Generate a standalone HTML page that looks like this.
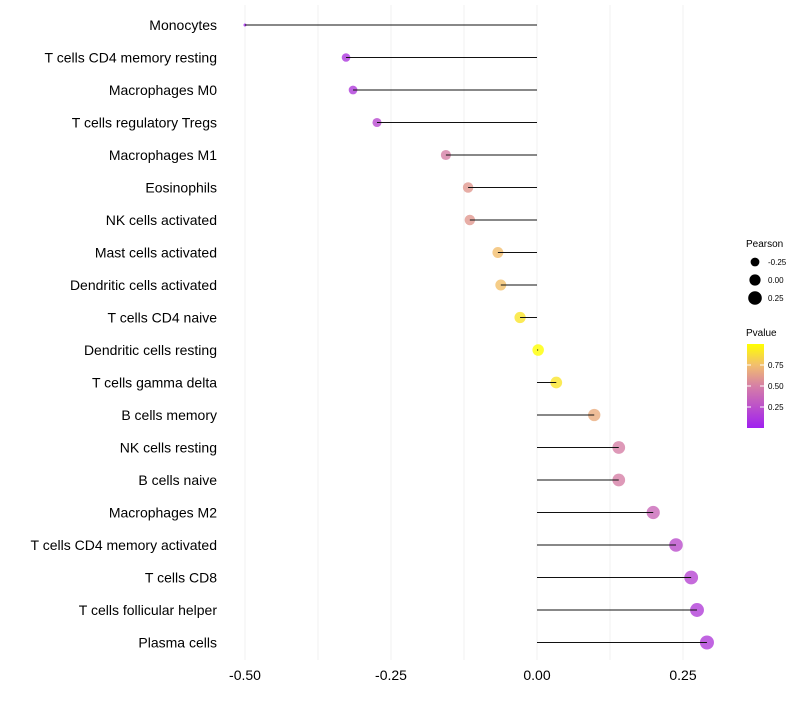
<!DOCTYPE html>
<html><head><meta charset="utf-8"><style>
body{margin:0;background:#fff;width:800px;height:700px;overflow:hidden;font-family:"Liberation Sans",sans-serif}
</style></head><body>
<svg id="chart" width="800" height="700" xmlns="http://www.w3.org/2000/svg">
<defs><linearGradient id="pg" x1="0" y1="1" x2="0" y2="0">
<stop offset="0" stop-color="#A020F0"/><stop offset="0.5" stop-color="#D67FA6"/><stop offset="0.75" stop-color="#F2BE6E"/><stop offset="1" stop-color="#FFFF00"/></linearGradient></defs>
<g id="grid"></g>
<g id="dots"></g>
<g id="marks"></g>
<g id="labels"></g>
<g id="xt"></g>
<g font-size="10">
<text x="746" y="247">Pearson</text>
<g id="sizeLeg"></g>
</g>
<g font-size="10">
<text x="746" y="336">Pvalue</text>
<rect x="747" y="344" width="17" height="84" fill="url(#pg)"/>
<g id="colLeg"></g>
</g>
</svg>
<script>
const categories=["Monocytes","T cells CD4 memory resting","Macrophages M0","T cells regulatory  Tregs ","Macrophages M1","Eosinophils","NK cells activated","Mast cells activated","Dendritic cells activated","T cells CD4 naive","Dendritic cells resting","T cells gamma delta","B cells memory","NK cells resting","B cells naive","Macrophages M2","T cells CD4 memory activated","T cells CD8","T cells follicular helper","Plasma cells"];
const pearson=[-0.50,-0.327,-0.315,-0.274,-0.156,-0.118,-0.115,-0.067,-0.062,-0.029,0.002,0.033,0.098,0.140,0.140,0.199,0.238,0.264,0.274,0.291];
const pvalue=[0.02,0.12,0.14,0.22,0.5,0.6,0.6,0.75,0.76,0.9,1.0,0.9,0.68,0.5,0.5,0.38,0.24,0.2,0.16,0.15];
const xTicks=[-0.5,-0.25,0,0.25];
const xTickLabels=["-0.50","-0.25","0.00","0.25"];
const sizeLegVals=[-0.25,0,0.25];
const colLegVals=[0.25,0.5,0.75];
const NS="http://www.w3.org/2000/svg";
const X=v=>537+v*584;
const Y=i=>25+i*32.5;
const R=v=>v<-0.45?1.5:Math.max(1.5,4.3+(v+0.327)*4.4);
const stops=[[0,[160,32,240]],[0.5,[214,127,166]],[0.75,[242,190,110]],[1,[255,255,0]]];
function col(p){p=Math.max(0,Math.min(1,p));for(let k=1;k<stops.length;k++){if(p<=stops[k][0]){const a=stops[k-1],b=stops[k],t=(p-a[0])/(b[0]-a[0]);return`rgb(${a[1].map((c,j)=>Math.round(c+(b[1][j]-c)*t)).join(",")})`;}}return"rgb(255,255,0)";}
function mk(t,at,parent){const e=document.createElementNS(NS,t);for(const k in at)e.setAttribute(k,at[k]);document.getElementById(parent).appendChild(e);return e;}
for(let v=-0.5;v<=0.25001;v+=0.125){const g=mk("line",{x1:X(v),x2:X(v),y1:5,y2:660,stroke:"#f0f0f0","stroke-width":1},"grid");

}
categories.forEach((c,i)=>{
const d=mk("circle",{cx:X(pearson[i]),cy:Y(i),r:R(pearson[i]),fill:col(pvalue[i]),"fill-opacity":0.8},"dots");


const s=mk("line",{x1:X(0),x2:X(pearson[i]),y1:Y(i),y2:Y(i),stroke:"#111","stroke-width":1},"marks");


const t=mk("text",{x:217,y:Y(i)+5,"text-anchor":"end","font-size":14,fill:"#000"},"labels");t.textContent=c;


});
xTicks.forEach((v,i)=>{const t=mk("text",{x:X(v),y:680,"text-anchor":"middle","font-size":14,fill:"#000"},"xt");t.textContent=xTickLabels[i];

});
sizeLegVals.forEach((v,i)=>{const y=262+i*18;
const c=mk("circle",{cx:755,cy:y,r:4.4+i*1.2,fill:"#000"},"sizeLeg");


const t=mk("text",{x:768,y:y+3,"font-size":8},"sizeLeg");t.textContent=v===0?"0.00":v.toFixed(2);

});
colLegVals.forEach(v=>{const y=428-v*84;
const l=mk("line",{x1:747,x2:751,y1:y,y2:y,stroke:"#fff"},"colLeg");
const l2=mk("line",{x1:760,x2:764,y1:y,y2:y,stroke:"#fff"},"colLeg");
const t=mk("text",{x:768,y:y+3,"font-size":8},"colLeg");t.textContent=v.toFixed(2);

});
</script>
</body></html>
